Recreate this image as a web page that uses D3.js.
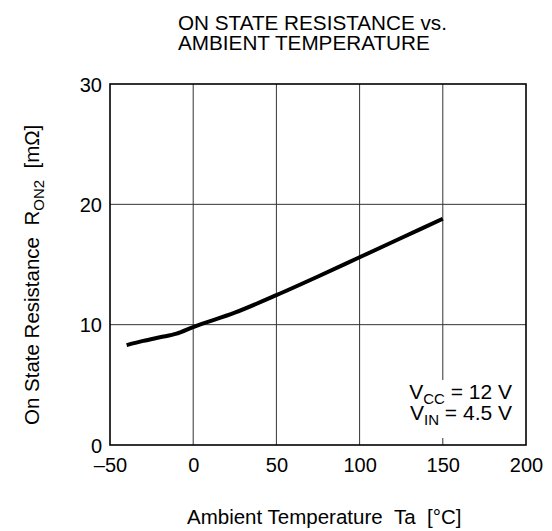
<!DOCTYPE html>
<html><head><meta charset="utf-8">
<script src="https://cdn.jsdelivr.net/npm/d3@7"></script>
<style>body{margin:0;background:#fff;} text{font-family:"Liberation Sans",Arial,sans-serif;fill:#000;}</style>
</head><body>
<svg id="c" width="552" height="531"></svg>
<script>
const temps = [-40, -30, -20, -10, 0, 25, 50, 75, 100, 125, 150];
const resistance = [8.3, 8.65, 8.95, 9.25, 9.8, 11.0, 12.45, 14.0, 15.6, 17.2, 18.8];
const xTicks = [-50, 0, 50, 100, 150, 200];
const yTicks = [0, 10, 20, 30];

const FF = '"Liberation Sans",Arial,sans-serif';
const svg = d3.select("#c");
const L = 110, R = 526, T = 84, B = 445;
const x = d3.scaleLinear().domain([-50, 200]).range([L, R]);
const y = d3.scaleLinear().domain([0, 30]).range([B, T]);

// grid
svg.append("g").selectAll("line").data(xTicks.slice(1, -1)).join("line")
  .attr("x1", d => x(d)).attr("x2", d => x(d)).attr("y1", T).attr("y2", B)
  .attr("stroke", "#333").attr("stroke-width", 1);
svg.append("g").selectAll("line").data(yTicks.slice(1, -1)).join("line")
  .attr("x1", L).attr("x2", R).attr("y1", d => y(d)).attr("y2", d => y(d))
  .attr("stroke", "#333").attr("stroke-width", 1);

// annotation background
svg.append("rect").attr("x", 400).attr("y", 380).attr("width", 120).attr("height", 58).attr("fill", "#fff");

// frame
svg.append("rect").attr("x", L).attr("y", T).attr("width", R - L).attr("height", B - T)
  .attr("fill", "none").attr("stroke", "#000").attr("stroke-width", 1.6);

// axes labels via d3 axes
const xa = svg.append("g").attr("transform", `translate(0,${B})`)
  .call(d3.axisBottom(x).tickValues(xTicks).tickSize(0).tickPadding(0).tickFormat(d => d < 0 ? "\u2013" + Math.abs(d) : d));
xa.select(".domain").remove();
xa.selectAll("text").attr("font-size", 20).style("font-family", FF).attr("fill", "#000").attr("dy", 27);
const ya = svg.append("g").attr("transform", `translate(${L},0)`)
  .call(d3.axisLeft(y).tickValues(yTicks).tickSize(0).tickPadding(8));
ya.select(".domain").remove();
ya.selectAll("text").attr("font-size", 20).style("font-family", FF).attr("fill", "#000").attr("dy", 7);

// curve
svg.append("path").datum(temps.map((t, i) => [t, resistance[i]]))
  .attr("d", d3.line().x(d => x(d[0])).y(d => y(d[1])).curve(d3.curveMonotoneX))
  .attr("fill", "none").attr("stroke", "#000").attr("stroke-width", 4);

// annotation
const a1 = svg.append("text").attr("x", 512).attr("y", 399).attr("text-anchor", "end").attr("font-size", 21);
a1.append("tspan").text("V");
a1.append("tspan").attr("font-size", 15).attr("dy", 4.5).text("CC");
a1.append("tspan").attr("dy", -4.5).text(" = 12 V");
const a2 = svg.append("text").attr("x", 512).attr("y", 420).attr("text-anchor", "end").attr("font-size", 21);
a2.append("tspan").text("V");
a2.append("tspan").attr("font-size", 15).attr("dy", 4.5).text("IN");
a2.append("tspan").attr("dy", -4.5).text(" = 4.5 V");

// title
svg.append("text").attr("x", 178).attr("y", 30).attr("font-size", 20.7).text("ON STATE RESISTANCE vs.");
svg.append("text").attr("x", 178).attr("y", 50).attr("font-size", 20.7).text("AMBIENT TEMPERATURE");

// x title
svg.append("text").attr("x", 187).attr("y", 524).attr("font-size", 20.5).text("Ambient Temperature\u00a0\u00a0Ta\u00a0\u00a0[°C]");

// y title
const yt = svg.append("text").attr("transform", "translate(39,425) rotate(-90)").attr("text-anchor", "start").attr("font-size", 20.5);
yt.append("tspan").text("On State Resistance\u00a0\u00a0R");
yt.append("tspan").attr("font-size", 15).attr("dy", 4.5).text("ON2");
yt.append("tspan").attr("dy", -4.5).text("\u00a0\u00a0[mΩ]");
</script>
</body></html>
